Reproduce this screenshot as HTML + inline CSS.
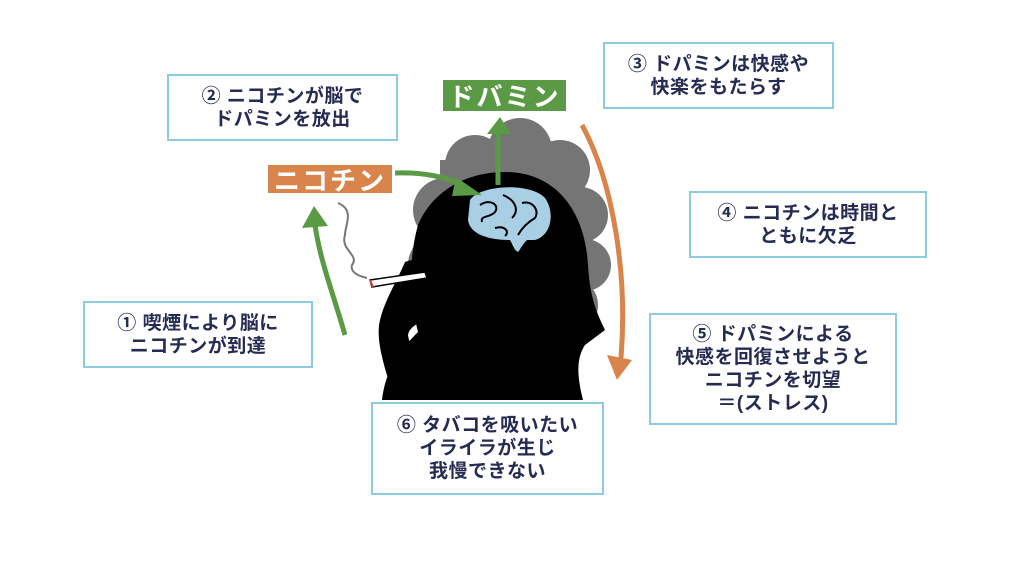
<!DOCTYPE html>
<html><head><meta charset="utf-8"><style>
body{margin:0;width:1024px;height:576px;background:#fff;position:relative;overflow:hidden;font-family:"Liberation Sans","Noto Sans CJK JP",sans-serif}
.b{position:absolute;border:2px solid #8ccbe2;background:#fff;box-sizing:border-box;display:flex;align-items:center;justify-content:center;text-align:center;color:#262b52;font-weight:bold;font-size:19px;line-height:23px;letter-spacing:0.5px}
.l{position:absolute;color:#fff;font-weight:bold;font-size:26px;display:flex;align-items:center;justify-content:center;letter-spacing:2px}
svg{position:absolute;left:0;top:0}
</style></head><body>
<svg width="1024" height="576">
<!-- cloud -->
<g fill="#757575">
<circle cx="475" cy="165" r="30"/><circle cx="520" cy="150" r="32"/><circle cx="560" cy="170" r="30"/>
<circle cx="445" cy="210" r="32"/><circle cx="580" cy="215" r="28"/><circle cx="440" cy="265" r="32"/><circle cx="585" cy="265" r="26"/>
<circle cx="465" cy="310" r="30"/><circle cx="570" cy="305" r="28"/><rect x="440" y="160" width="145" height="165"/>
</g>
<!-- head/body -->
<path d="M505,172 C555,172 585,210 588,265 C590,300 598,315 605,330 L585,345 C575,360 578,380 583,400 L382,400 C385,372 398,352 418,332 C410,300 408,260 418,225 C432,192 465,172 505,172z" fill="#000"/>
<!-- hand -->
<path d="M405,262 C420,255 428,270 420,282 L432,290 C430,300 420,300 415,305 L425,315 C420,325 410,325 408,335 C410,350 420,360 440,365 L430,400 L395,400 C385,370 375,340 380,320 C385,300 395,285 405,262z" fill="#000"/>
<path d="M370,280 L425,272 L427,278 L372,287z" fill="#fff" stroke="#000" stroke-width="1.5"/>
<path d="M370,280 L373,287" stroke="#c44" stroke-width="2"/>
<path d="M338,203 C355,210 345,225 345,235 C340,250 360,255 352,265 C350,272 358,276 367,278" fill="none" stroke="#777" stroke-width="2"/>
<!-- brain -->
<path d="M470,200 C480,185 530,182 545,198 C555,212 552,235 535,240 L527,240 C522,245 520,250 518,252 C514,250 513,245 510,240 C490,240 470,235 468,220z" fill="#a8cfe3"/>
<g fill="none" stroke="#000" stroke-width="2">
<path d="M480,205 C490,198 500,205 495,212 C490,218 480,215 482,222"/>
<path d="M503,195 C515,200 520,210 512,218"/>
<path d="M522,203 C532,200 540,210 535,218 C528,222 522,228 518,235"/>
<path d="M495,228 C505,225 510,232 505,236"/>
</g>
<!-- arrows -->
<path d="M345,335 C332,290 320,260 315,225" fill="none" stroke="#5a9a45" stroke-width="5"/>
<path d="M302,228 L314,206 L328,226z" fill="#5a9a45"/>
<path d="M395,173 C425,172 445,177 462,185" fill="none" stroke="#5a9a45" stroke-width="5"/>
<path d="M456,177 L482,195 L452,196z" fill="#5a9a45"/>
<path d="M498,185 L498,130" fill="none" stroke="#5a9a45" stroke-width="5"/>
<path d="M487,134 L500,117 L511,134z" fill="#5a9a45"/>
<path d="M582,125 C612,180 628,270 621,358" fill="none" stroke="#d9844a" stroke-width="5"/>
<path d="M607,355 L617,380 L632,360z" fill="#d9844a"/>
</svg>
<div class="l" style="left:443px;top:80px;width:123px;height:31px;background:#5a9a45">ドバミン</div>
<div class="l" style="left:268px;top:165px;width:124px;height:28px;background:#d9844a">ニコチン</div>
<div class="b" style="left:167px;top:74px;width:231px;height:67px">② ニコチンが脳で<br>ドパミンを放出</div>
<div class="b" style="left:603px;top:42px;width:231px;height:67px">③ ドパミンは快感や<br>快楽をもたらす</div>
<div class="b" style="left:689px;top:191px;width:238px;height:67px">④ ニコチンは時間と<br>ともに欠乏</div>
<div class="b" style="left:83px;top:301px;width:230px;height:67px">① 喫煙により脳に<br>ニコチンが到達</div>
<div class="b" style="left:649px;top:313px;width:248px;height:112px">⑤ ドパミンによる<br>快感を回復させようと<br>ニコチンを切望<br>＝(ストレス)</div>
<div class="b" style="left:371px;top:402px;width:233px;height:93px">⑥ タバコを吸いたい<br>イライラが生じ<br>我慢できない</div>
</body></html>
